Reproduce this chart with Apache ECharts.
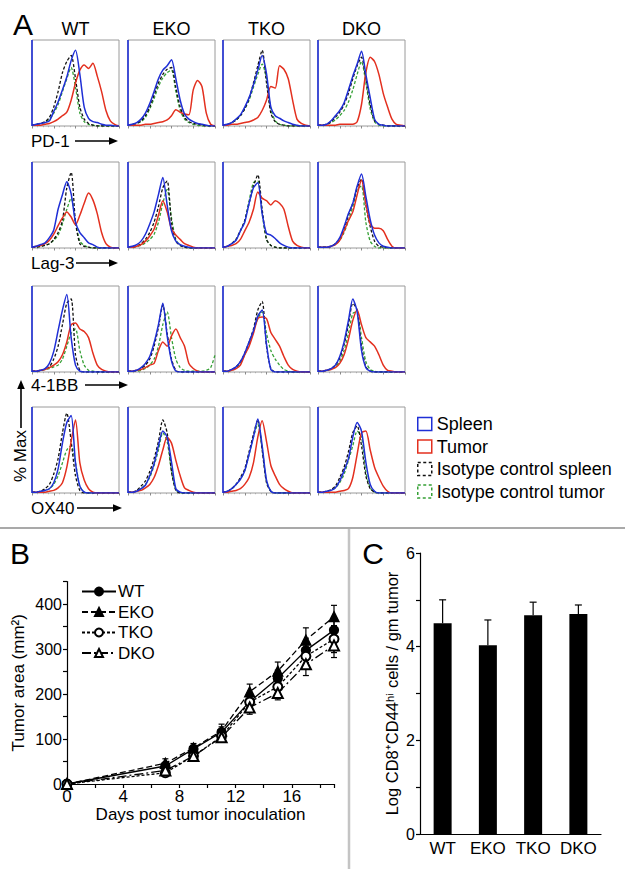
<!DOCTYPE html>
<html><head><meta charset="utf-8">
<script src="https://cdn.jsdelivr.net/npm/echarts@6/dist/echarts.min.js"></script>
<style>html,body{margin:0;padding:0;background:#fff}#c{width:625px;height:869px}</style>
</head><body><div id="c"></div>
<script>
// ---------- Panel A data (histogram % Max at log-decade positions) ----------
const HIST_X = [0,0.2,0.4,0.6,0.8,1.0,1.2,1.4,1.6,1.8,2.0,2.2,2.4,2.6,2.8,3.0,3.2,3.4,3.6,3.8,4.0];
const SPIKE = [0,100];
const MARKERS = ['PD-1','Lag-3','4-1BB','OX40'];
const GENOTYPES = ['WT','EKO','TKO','DKO'];
const CURVE_NAMES = ['Spleen','Tumor','Isotype control spleen','Isotype control tumor'];

const PD1_WT_SPL  = [1,2,3,4,6,17,28,42,57,76,88,60,22,9,5,4,2,1,1,0,0];
const PD1_WT_TUM  = [1,1,1,2,3,5,8,12,16,30,50,65,71,67,73,58,40,18,6,2,0];
const PD1_WT_ISOS = [1,2,3,5,10,22,40,62,75,82,55,22,8,3,1,0,0,0,0,0,0];
const PD1_WT_ISOT = [1,2,3,4,8,15,25,40,55,68,45,15,5,2,1,0,0,0,0,0,0];
const PD1_EKO_SPL  = [1,2,4,8,15,26,40,55,65,70,77,55,30,14,8,5,3,2,1,0,0];
const PD1_EKO_TUM  = [1,1,1,1,2,2,3,4,5,7,12,19,16,14,13,42,53,46,15,2,0];
const PD1_EKO_ISOS = [1,2,3,6,12,22,36,50,60,66,68,45,22,10,5,3,2,1,0,0,0];
const PD1_EKO_ISOT = [1,2,3,5,10,20,32,46,56,62,65,40,18,8,4,2,1,0,0,0,0];
const PD1_TKO_SPL  = [1,2,4,8,13,22,33,48,65,82,61,22,12,9,6,4,2,1,0,0,0];
const PD1_TKO_TUM  = [1,1,2,2,3,4,5,7,10,18,30,46,44,70,66,55,30,8,3,1,0];
const PD1_TKO_ISOS = [1,2,4,7,12,20,32,50,70,88,50,15,5,2,1,0,0,0,0,0,0];
const PD1_TKO_ISOT = [1,2,4,7,12,20,30,45,60,72,55,20,6,2,1,0,0,0,0,0,0];
const PD1_DKO_SPL  = [1,1,2,6,12,18,27,42,58,72,87,60,33,8,2,1,0,0,0,0,0];
const PD1_DKO_TUM  = [1,1,1,1,1,2,2,2,2,5,25,62,80,75,60,38,22,8,2,1,0];
const PD1_DKO_ISOS = [1,1,2,5,10,16,25,38,55,70,80,55,25,6,2,1,0,0,0,0,0];
const PD1_DKO_ISOT = [1,1,2,4,7,12,18,28,42,60,75,50,20,5,1,0,0,0,0,0,0];

const LAG3_WT_SPL  = [1,2,4,6,12,21,45,62,77,63,30,18,12,6,4,1,0,0,0,0,0];
const LAG3_WT_TUM  = [1,2,3,5,9,16,26,35,42,36,27,38,52,64,56,40,18,5,1,0,0];
const LAG3_WT_ISOS = [1,1,2,3,5,10,18,32,70,88,30,5,2,1,0,0,0,0,0,0,0];
const LAG3_WT_ISOT = [1,1,2,3,5,9,15,28,45,58,30,8,3,1,0,0,0,0,0,0,0];
const LAG3_EKO_SPL  = [1,2,4,8,16,28,42,62,82,50,20,8,4,2,1,0,0,0,0,0,0];
const LAG3_EKO_TUM  = [1,1,2,4,8,14,22,38,55,42,22,15,10,5,3,1,0,0,0,0,0];
const LAG3_EKO_ISOS = [1,1,2,5,10,18,30,48,70,78,30,8,3,1,0,0,0,0,0,0,0];
const LAG3_EKO_ISOT = [1,1,2,3,6,10,16,30,52,68,35,10,3,1,0,0,0,0,0,0,0];
const LAG3_TKO_SPL  = [1,2,5,9,20,30,52,70,76,40,17,15,11,6,3,1,0,0,0,0,0];
const LAG3_TKO_TUM  = [1,2,3,5,10,20,30,45,65,58,55,50,55,52,45,25,8,3,1,0,0];
const LAG3_TKO_ISOS = [1,2,5,10,20,32,52,72,85,45,10,3,1,0,0,0,0,0,0,0,0];
const LAG3_TKO_ISOT = [1,2,5,10,20,32,55,76,78,40,10,3,1,0,0,0,0,0,0,0,0];
const LAG3_DKO_SPL  = [1,1,1,2,5,12,25,40,52,72,86,60,33,15,6,2,1,0,0,0,0];
const LAG3_DKO_TUM  = [1,1,1,2,4,9,20,32,42,62,79,52,28,23,23,20,10,2,0,0,0];
const LAG3_DKO_ISOS = [1,1,1,2,5,10,22,38,52,70,80,50,25,8,2,1,0,0,0,0,0];
const LAG3_DKO_ISOT = [1,1,1,2,4,9,18,32,48,68,72,30,8,2,0,0,0,0,0,0,0];

const B41BB_WT_SPL  = [1,1,2,4,10,24,48,72,90,40,8,1,0,0,0,0,0,0,0,0,0];
const B41BB_WT_TUM  = [1,1,2,3,5,8,12,20,35,55,57,50,47,40,22,8,3,1,0,0,0];
const B41BB_WT_ISOS = [1,1,2,3,6,15,30,55,80,85,20,2,0,0,0,0,0,0,0,0,0];
const B41BB_WT_ISOT = [1,1,2,3,4,6,8,15,30,45,50,25,8,2,1,0,0,0,0,0,0];
const B41BB_EKO_SPL  = [1,1,2,5,10,18,34,55,80,42,13,1,0,0,0,0,0,0,0,0,0];
const B41BB_EKO_TUM  = [1,1,2,3,5,8,10,25,35,30,42,50,40,30,10,4,1,0,0,0,0];
const B41BB_EKO_ISOS = [1,1,2,4,8,15,30,52,78,45,15,2,0,0,0,0,0,0,0,0,0];
const B41BB_EKO_ISOT = [1,1,1,2,4,8,15,30,55,70,40,15,5,2,1,1,1,1,2,5,20];
const B41BB_TKO_SPL  = [1,1,3,6,12,22,35,48,65,72,32,3,0,0,0,0,0,0,0,0,0];
const B41BB_TKO_TUM  = [1,1,2,4,8,20,30,45,62,64,62,46,38,30,18,8,3,1,0,0,0];
const B41BB_TKO_ISOS = [1,1,3,6,12,22,35,50,72,82,30,4,0,0,0,0,0,0,0,0,0];
const B41BB_TKO_ISOT = [1,1,2,5,10,20,32,48,62,70,45,25,15,8,3,1,0,0,0,0,0];
const B41BB_DKO_SPL  = [1,1,2,4,8,18,35,60,85,70,25,5,1,0,0,0,0,0,0,0,0];
const B41BB_DKO_TUM  = [1,1,2,3,5,10,20,38,60,72,55,40,35,30,20,8,2,1,0,0,0];
const B41BB_DKO_ISOS = [1,1,2,4,8,16,32,55,80,72,30,6,1,0,0,0,0,0,0,0,0];
const B41BB_DKO_ISOT = [1,1,2,3,6,12,25,45,68,70,40,12,3,1,0,0,0,0,0,0,0];

const OX40_WT_SPL  = [1,1,2,3,5,12,28,58,82,90,35,8,1,0,0,0,0,0,0,0,0];
const OX40_WT_TUM  = [1,1,1,1,2,3,6,12,30,60,85,35,15,5,1,0,0,0,0,0,0];
const OX40_WT_ISOS = [1,1,2,5,10,22,40,70,93,60,20,3,0,0,0,0,0,0,0,0,0];
const OX40_WT_ISOT = [1,1,2,3,5,10,20,35,50,55,35,8,1,0,0,0,0,0,0,0,0];
const OX40_EKO_SPL  = [1,1,2,5,9,20,34,55,72,65,36,5,1,0,0,0,0,0,0,0,0];
const OX40_EKO_TUM  = [1,1,2,3,6,10,18,32,50,65,58,38,20,6,3,1,0,0,0,0,0];
const OX40_EKO_ISOS = [1,1,3,8,14,25,40,60,85,70,25,3,0,0,0,0,0,0,0,0,0];
const OX40_EKO_ISOT = [1,1,2,5,10,18,32,50,70,60,25,4,0,0,0,0,0,0,0,0,0];
const OX40_TKO_SPL  = [1,2,5,10,16,26,45,65,86,55,15,2,0,0,0,0,0,0,0,0,0];
const OX40_TKO_TUM  = [1,1,2,3,5,10,18,35,65,84,60,32,20,10,5,2,0,0,0,0,0];
const OX40_TKO_ISOS = [1,2,5,10,18,28,48,68,85,50,12,2,0,0,0,0,0,0,0,0,0];
const OX40_TKO_ISOT = [1,2,5,10,16,26,45,65,80,52,14,2,0,0,0,0,0,0,0,0,0];
const OX40_DKO_SPL  = [1,1,2,3,6,14,26,40,65,82,72,36,10,2,0,0,0,0,0,0,0];
const OX40_DKO_TUM  = [1,1,1,1,1,2,3,5,18,45,70,72,50,30,18,8,2,0,0,0,0];
const OX40_DKO_ISOS = [1,1,2,4,8,18,30,48,70,78,55,20,5,1,0,0,0,0,0,0,0];
const OX40_DKO_ISOT = [1,1,2,3,6,12,22,38,55,72,65,25,6,1,0,0,0,0,0,0,0];

// ---------- Panel B data ----------
const DAYS = [0,7,9,11,13,15,17,19];
const B_GROUPS = ['WT','EKO','TKO','DKO'];
const WT_AREA  = [0,40,78,115,183,235,297,342];
const EKO_AREA = [0,46,80,118,205,251,320,372];
const TKO_AREA = [0,25,62,106,182,216,284,322];
const DKO_AREA = [0,30,62,104,170,202,266,308];
const WT_ERR  = [2,8,8,12,14,18,22,22];
const EKO_ERR = [2,10,10,15,17,20,27,25];
const TKO_ERR = [2,6,8,10,15,18,25,30];
const DKO_ERR = [2,6,8,10,15,15,25,27];
const B_Y_TICKS = [0,100,200,300,400];
const B_X_TICKS = [0,4,8,12,16];

// ---------- Panel C data ----------
const C_CATS = ['WT','EKO','TKO','DKO'];
const C_LOG  = [4.50,4.03,4.67,4.70];
const C_ERR  = [0.50,0.54,0.28,0.19];
const C_Y_TICKS = [0,2,4,6];

// ---------- build ----------
const HIST = {
  'PD-1':  {WT:[PD1_WT_SPL,PD1_WT_TUM,PD1_WT_ISOS,PD1_WT_ISOT], EKO:[PD1_EKO_SPL,PD1_EKO_TUM,PD1_EKO_ISOS,PD1_EKO_ISOT], TKO:[PD1_TKO_SPL,PD1_TKO_TUM,PD1_TKO_ISOS,PD1_TKO_ISOT], DKO:[PD1_DKO_SPL,PD1_DKO_TUM,PD1_DKO_ISOS,PD1_DKO_ISOT]},
  'Lag-3': {WT:[LAG3_WT_SPL,LAG3_WT_TUM,LAG3_WT_ISOS,LAG3_WT_ISOT], EKO:[LAG3_EKO_SPL,LAG3_EKO_TUM,LAG3_EKO_ISOS,LAG3_EKO_ISOT], TKO:[LAG3_TKO_SPL,LAG3_TKO_TUM,LAG3_TKO_ISOS,LAG3_TKO_ISOT], DKO:[LAG3_DKO_SPL,LAG3_DKO_TUM,LAG3_DKO_ISOS,LAG3_DKO_ISOT]},
  '4-1BB': {WT:[B41BB_WT_SPL,B41BB_WT_TUM,B41BB_WT_ISOS,B41BB_WT_ISOT], EKO:[B41BB_EKO_SPL,B41BB_EKO_TUM,B41BB_EKO_ISOS,B41BB_EKO_ISOT], TKO:[B41BB_TKO_SPL,B41BB_TKO_TUM,B41BB_TKO_ISOS,B41BB_TKO_ISOT], DKO:[B41BB_DKO_SPL,B41BB_DKO_TUM,B41BB_DKO_ISOS,B41BB_DKO_ISOT]},
  'OX40':  {WT:[OX40_WT_SPL,OX40_WT_TUM,OX40_WT_ISOS,OX40_WT_ISOT], EKO:[OX40_EKO_SPL,OX40_EKO_TUM,OX40_EKO_ISOS,OX40_EKO_ISOT], TKO:[OX40_TKO_SPL,OX40_TKO_TUM,OX40_TKO_ISOS,OX40_TKO_ISOT], DKO:[OX40_DKO_SPL,OX40_DKO_TUM,OX40_DKO_ISOS,OX40_DKO_ISOT]}
};

const FONT = '"Liberation Sans", Arial, Helvetica, sans-serif';
const BLUE = '#1f2fd6', RED = '#e3301f', BLACK = '#111111', GREEN = '#35a035';
const CURVE_COLORS = [BLUE, RED, BLACK, GREEN];
const CURVE_DASH = ['solid','solid',[3,2],[3,2]];
const DRAW_ORDER = [3,2,1,0]; // green, black, red, blue on top

const BOX_LEFT = [32,128,223,318], BOX_TOP = [40,162,286,407], BOX_W = 87, BOX_H = 86;

const grids = [], xAxes = [], yAxes = [], series = [];
MARKERS.forEach((m, r) => {
  GENOTYPES.forEach((g, c) => {
    const gi = grids.length;
    grids.push({left: BOX_LEFT[c], top: BOX_TOP[r], width: BOX_W, height: BOX_H, show: true,
      borderColor: '#9a9a9a', borderWidth: 1, backgroundColor: 'transparent'});
    xAxes.push({gridIndex: gi, type: 'value', min: 0, max: 4, interval: 1,
      axisLine: {show: false}, axisLabel: {show: false}, splitLine: {show: false},
      axisTick: {show: true, length: 2.5, lineStyle: {color: '#888', width: 1}},
      minorTick: {show: true, splitNumber: 4, length: 1.2, lineStyle: {color: '#aaa'}}});
    yAxes.push({gridIndex: gi, type: 'value', min: 0, max: 100, show: false});
    // left-edge spike (events piled at the axis origin)
    series.push({type: 'line', name: 'Spleen', xAxisIndex: gi, yAxisIndex: gi, symbol: 'none',
      data: [[SPIKE[0], 0], SPIKE], lineStyle: {color: BLUE, width: 1.6}, itemStyle: {color: BLUE},
      silent: true, animation: false, z: 3});
    DRAW_ORDER.forEach(k => {
      const arr = HIST[m][g][k];
      series.push({type: 'line', name: CURVE_NAMES[k], xAxisIndex: gi, yAxisIndex: gi,
        symbol: 'none', smooth: 0.25, animation: false,
        data: arr.map((y, i) => [HIST_X[i], y]),
        lineStyle: {color: CURVE_COLORS[k], width: k >= 2 ? 1.3 : 1.5, type: CURVE_DASH[k]},
        itemStyle: {color: CURVE_COLORS[k]}, z: 2 + (k === 0 ? 1 : 0)});
    });
  });
});

// ---- Panel B ----
const BI = grids.length;
grids.push({left: 67, right: 291, top: 581.5, bottom: 85});
xAxes.push({gridIndex: BI, type: 'value', min: 0, max: 19, interval: 2,
  axisLine: {lineStyle: {color: '#000', width: 1.2}},
  axisTick: {length: 4, lineStyle: {color: '#000', width: 1.2}},
  axisLabel: {color: '#000', fontSize: 17, fontFamily: FONT, margin: 4,
    formatter: v => B_X_TICKS.includes(v) ? String(v) : ''},
  splitLine: {show: false},
  name: 'Days post tumor inoculation', nameLocation: 'middle', nameGap: 19,
  nameTextStyle: {color: '#000', fontSize: 17, fontFamily: FONT}});
yAxes.push({gridIndex: BI, type: 'value', min: 0, max: 450, interval: 50,
  axisLine: {show: true, lineStyle: {color: '#000', width: 1.2}},
  axisTick: {show: true, length: 4, lineStyle: {color: '#000', width: 1.2}},
  axisLabel: {color: '#000', fontSize: 16, fontFamily: FONT, margin: 5,
    formatter: v => B_Y_TICKS.includes(v) ? String(v) : ''},
  splitLine: {show: false},
  name: 'Tumor area (mm²)', nameLocation: 'middle', nameGap: 40, nameRotate: 90,
  nameTextStyle: {color: '#000', fontSize: 17, fontFamily: FONT}});

const B_AREAS = [WT_AREA, EKO_AREA, TKO_AREA, DKO_AREA];
const B_ERRS = [WT_ERR, EKO_ERR, TKO_ERR, DKO_ERR];
const B_SYMBOL = ['circle','triangle','emptyCircle','emptyTriangle'];
const B_DASH = ['solid',[6,3],[3,2],[9,3,2,3]];

function errBarRender(capHalf, upOnly) {
  return function (params, api) {
    const x = api.value(0), lo = api.value(1), hi = api.value(2);
    const pL = api.coord([x, lo]), pH = api.coord([x, hi]);
    const st = {stroke: '#000', lineWidth: 1.2};
    const ch = [{type: 'line', shape: {x1: pL[0], y1: pL[1], x2: pH[0], y2: pH[1]}, style: st},
                {type: 'line', shape: {x1: pH[0] - capHalf, y1: pH[1], x2: pH[0] + capHalf, y2: pH[1]}, style: st}];
    if (!upOnly) ch.push({type: 'line', shape: {x1: pL[0] - capHalf, y1: pL[1], x2: pL[0] + capHalf, y2: pL[1]}, style: st});
    return {type: 'group', children: ch};
  };
}

B_GROUPS.forEach((name, i) => {
  series.push({type: 'custom', name: name + ' error', xAxisIndex: BI, yAxisIndex: BI,
    renderItem: errBarRender(3, false), animation: false, z: 1,
    data: DAYS.map((d, j) => [d, B_AREAS[i][j] - B_ERRS[i][j], B_AREAS[i][j] + B_ERRS[i][j]]),
    encode: {x: 0, y: [1, 2]}});
});
B_GROUPS.forEach((name, i) => {
  series.push({type: 'line', name: name, xAxisIndex: BI, yAxisIndex: BI,
    data: DAYS.map((d, j) => [d, B_AREAS[i][j]]),
    symbol: B_SYMBOL[i], symbolSize: i % 2 ? 10 : 9, showAllSymbol: true, animation: false,
    lineStyle: {color: '#000', width: 1.3, type: B_DASH[i]},
    itemStyle: {color: '#000', borderColor: '#000', borderWidth: 1.3}, z: 3});
});

// ---- Panel C ----
const CI = grids.length;
grids.push({left: 420, right: 24, top: 553, bottom: 35});
xAxes.push({gridIndex: CI, type: 'category', data: C_CATS,
  axisLine: {lineStyle: {color: '#000', width: 1.2}},
  axisTick: {length: 4, lineStyle: {color: '#000', width: 1.2}},
  axisLabel: {color: '#000', fontSize: 17, fontFamily: FONT, margin: 6, interval: 0}});
yAxes.push({gridIndex: CI, type: 'value', min: 0, max: 6, interval: 1,
  axisLine: {show: true, lineStyle: {color: '#000', width: 1.2}},
  axisTick: {show: true, length: 4, lineStyle: {color: '#000', width: 1.2}},
  axisLabel: {color: '#000', fontSize: 16, fontFamily: FONT, margin: 5,
    formatter: v => C_Y_TICKS.includes(v) ? String(v) : ''},
  splitLine: {show: false},
  name: 'Log CD8⁺CD44ʰⁱ cells / gm tumor', nameLocation: 'middle', nameGap: 20, nameRotate: 90,
  nameTextStyle: {color: '#000', fontSize: 16.5, fontFamily: FONT}});
series.push({type: 'custom', name: 'C error', xAxisIndex: CI, yAxisIndex: CI,
  renderItem: errBarRender(3.5, true), animation: false, z: 1,
  data: C_CATS.map((c, i) => [i, C_LOG[i], C_LOG[i] + C_ERR[i]]), encode: {x: 0, y: [1, 2]}});
series.push({type: 'bar', name: 'Log CD8 CD44hi', xAxisIndex: CI, yAxisIndex: CI, data: C_LOG,
  barWidth: 18, itemStyle: {color: '#000'}, animation: false, z: 2});

// ---------- decorations ----------
function txt(x, y, text, size, opts) {
  return Object.assign({type: 'text', x: x, y: y, silent: true,
    style: Object.assign({text: text, fill: '#000', font: size + 'px ' + FONT, align: 'left', verticalAlign: 'middle'}, opts || {})});
}
function hArrow(x1, x2, y) {
  return [{type: 'line', silent: true, shape: {x1: x1, y1: y, x2: x2 - 6, y2: y}, style: {stroke: '#000', lineWidth: 1.6}},
          {type: 'polygon', silent: true, shape: {points: [[x2 - 9, y - 3.8], [x2, y], [x2 - 9, y + 3.8]]}, style: {fill: '#000'}}];
}
const graphic = [];
graphic.push(txt(23, 24, 'A', 30, {align: 'center'}));
graphic.push(txt(20, 553, 'B', 30, {align: 'center'}));
graphic.push(txt(373, 553, 'C', 30, {align: 'center'}));
GENOTYPES.forEach((g, c) => graphic.push(txt(BOX_LEFT[c] + BOX_W / 2, 29, g, 18, {align: 'center'})));
const ROW_LABEL_Y = [141, 263, 385, 508];
const ROW_ARROW = [[75, 118], [76, 118], [85, 128], [77, 122]];
MARKERS.forEach((m, r) => {
  graphic.push(txt(31, ROW_LABEL_Y[r], m, 17));
  hArrow(ROW_ARROW[r][0], ROW_ARROW[r][1], ROW_LABEL_Y[r]).forEach(e => graphic.push(e));
});
graphic.push({type: 'line', silent: true, shape: {x1: 21, y1: 428, x2: 21, y2: 386}, style: {stroke: '#000', lineWidth: 1.6}});
graphic.push({type: 'polygon', silent: true, shape: {points: [[17.2, 389], [21, 380], [24.8, 389]]}, style: {fill: '#000'}});
graphic.push(Object.assign(txt(20, 456, '% Max', 17, {align: 'center'}), {rotation: Math.PI / 2}));
graphic.push({type: 'line', silent: true, shape: {x1: 0, y1: 528, x2: 625, y2: 528}, style: {stroke: '#8c8c8c', lineWidth: 1.5}});
graphic.push({type: 'line', silent: true, shape: {x1: 349, y1: 529, x2: 349, y2: 869}, style: {stroke: '#c4c4c4', lineWidth: 2.5}});

const chart = echarts.init(document.getElementById('c'), null, {renderer: 'svg'});
chart.setOption({
  animation: false,
  backgroundColor: '#fff',
  textStyle: {fontFamily: FONT},
  grid: grids, xAxis: xAxes, yAxis: yAxes, series: series, graphic: graphic,
  legend: [
    {orient: 'vertical', left: 412, top: 410, itemWidth: 14, itemHeight: 13, itemGap: 4.5,
      textStyle: {fontSize: 18, color: '#000', fontFamily: FONT}, selectedMode: false,
      data: [
        {name: 'Spleen', icon: 'rect', itemStyle: {color: 'rgba(0,0,0,0)', borderColor: BLUE, borderWidth: 1.5}},
        {name: 'Tumor', icon: 'rect', itemStyle: {color: 'rgba(0,0,0,0)', borderColor: RED, borderWidth: 1.5}},
        {name: 'Isotype control spleen', icon: 'rect', itemStyle: {color: 'rgba(0,0,0,0)', borderColor: BLACK, borderWidth: 1.5, borderType: [3, 2.5]}},
        {name: 'Isotype control tumor', icon: 'rect', itemStyle: {color: 'rgba(0,0,0,0)', borderColor: GREEN, borderWidth: 1.5, borderType: [3, 2.5]}}
      ]},
    {orient: 'vertical', left: 76, top: 578, itemWidth: 34, itemHeight: 10, itemGap: 3.5,
      textStyle: {fontSize: 17, color: '#000', fontFamily: FONT, padding: [0, 0, 0, -3]}, selectedMode: false,
      data: B_GROUPS}
  ]
});
</script></body></html>
